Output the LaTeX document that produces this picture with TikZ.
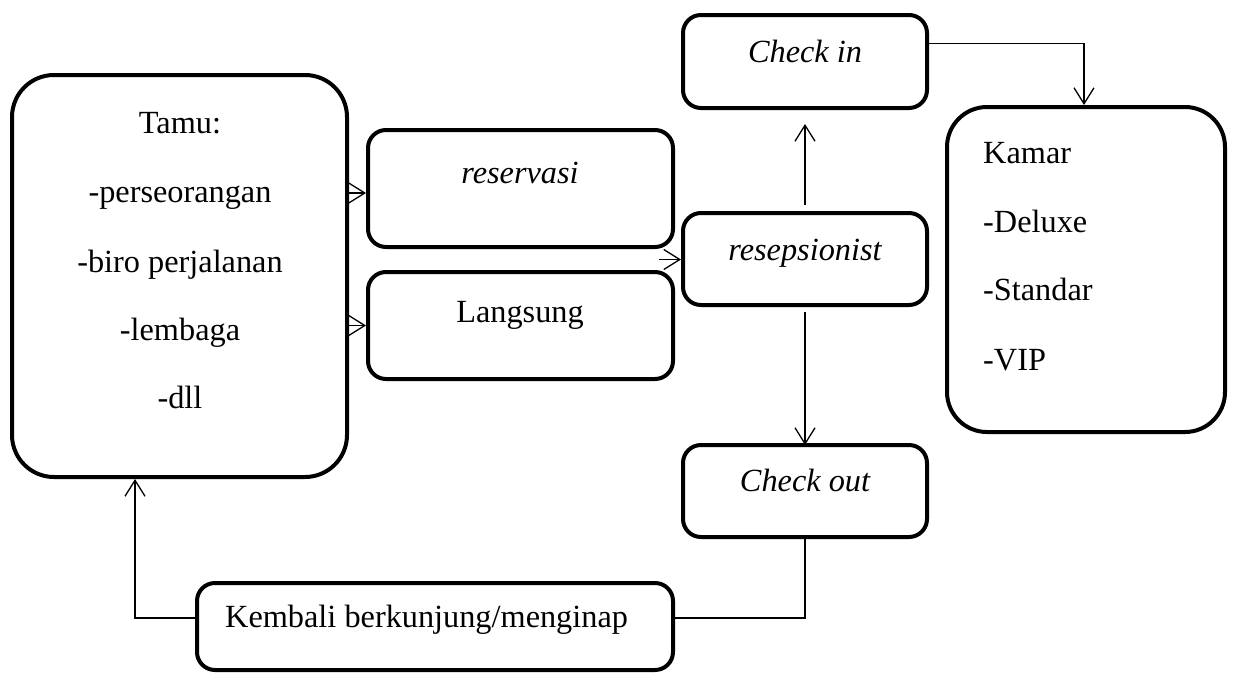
\documentclass[tikz,border=0pt]{standalone}
\usepackage{fontspec}
\setmainfont{Liberation Serif}
\usetikzlibrary{arrows.meta,calc}

\tikzset{
  flowbox/.style={draw, line width=4pt, rounded corners=18pt, inner sep=0pt},
  bigbox/.style={flowbox, rounded corners=42pt},
  txt/.style={inner sep=0pt, anchor=base, font=\fontsize{32.3pt}{38pt}\selectfont},
  lefttxt/.style={txt, anchor=base west},
  conn/.style={line width=1.3pt, -{Straight Barb[length=16pt,width=20pt,line width=1.3pt]}},
  plain/.style={line width=1.3pt}
}

\begin{document}
\begin{tikzpicture}[x=1pt,y=-1pt]
\useasboundingbox (0,0) rectangle (1237,673);

% boxes
\node[bigbox, minimum width=335pt, minimum height=402pt] (tamu) at (179.5,276) {};
\node[flowbox, minimum width=305pt, minimum height=117pt] (reservasi) at (520.5,188.5) {};
\node[flowbox, minimum width=305pt, minimum height=107pt] (langsung) at (520.5,325.5) {};
\node[flowbox, minimum width=244pt, minimum height=92pt] (resep) at (805,259) {};
\node[flowbox, minimum width=244pt, minimum height=93pt] (checkin) at (805,61.5) {};
\node[flowbox, minimum width=244pt, minimum height=92pt] (checkout) at (805,491) {};
\node[bigbox, rounded corners=40pt, minimum width=278pt, minimum height=325pt] (kamar) at (1086,269.5) {};
\node[flowbox, minimum width=476pt, minimum height=87pt] (kembali) at (435,626.5) {};

% texts
\node[txt] (t1) at (180,133) {Tamu:};
\node[txt] (t2) at (180,202) {-perseorangan};
\node[txt] (t3) at (180,272) {-biro perjalanan};
\node[txt] (t4) at (180,340) {-lembaga};
\node[txt] (t5) at (180,408) {-dll};
\node[txt] (tres) at (520,183) {\itshape reservasi};
\node[txt] (tlang) at (520,322) {Langsung};
\node[txt] (tresep) at (805,260) {\itshape resepsionist};
\node[txt] (tcin) at (805,62) {\itshape Check in};
\node[txt] (tcout) at (805,491) {\itshape Check out};
\node[lefttxt] (k1) at (983,163) {Kamar};
\node[lefttxt] (k2) at (983,232) {-Deluxe};
\node[lefttxt] (k3) at (983,300) {-Standar};
\node[lefttxt] (k4) at (983,370) {-VIP};
\node[lefttxt] (tkem) at (225,627) {Kembali berkunjung/menginap};

% connectors
\coordinate (rl) at ($(reservasi.south east)!0.5!(langsung.north east)$);
\draw[conn] ([yshift=-4.5pt]tamu.east |- reservasi.west) -- ([yshift=-4.5pt]reservasi.west);
\draw[conn] (tamu.east |- langsung.west) -- (langsung.west);
\draw[conn] ([xshift=-16pt]rl) -- (resep.west |- rl);
\draw[conn] ([yshift=6pt]resep.north) -- ([yshift=-14pt]checkin.south);
\draw[conn] ([yshift=18pt]checkin.east) -| ([xshift=-2pt]kamar.north);
\draw[conn] ([yshift=-5pt]resep.south) -- ([yshift=-2pt]checkout.north);
\draw[plain] (checkout.south) |- ([yshift=8.5pt]kembali.east);
\draw[conn] ([yshift=8.5pt]kembali.west) -| ([xshift=-44.5pt]tamu.south);
\end{tikzpicture}
\end{document}
